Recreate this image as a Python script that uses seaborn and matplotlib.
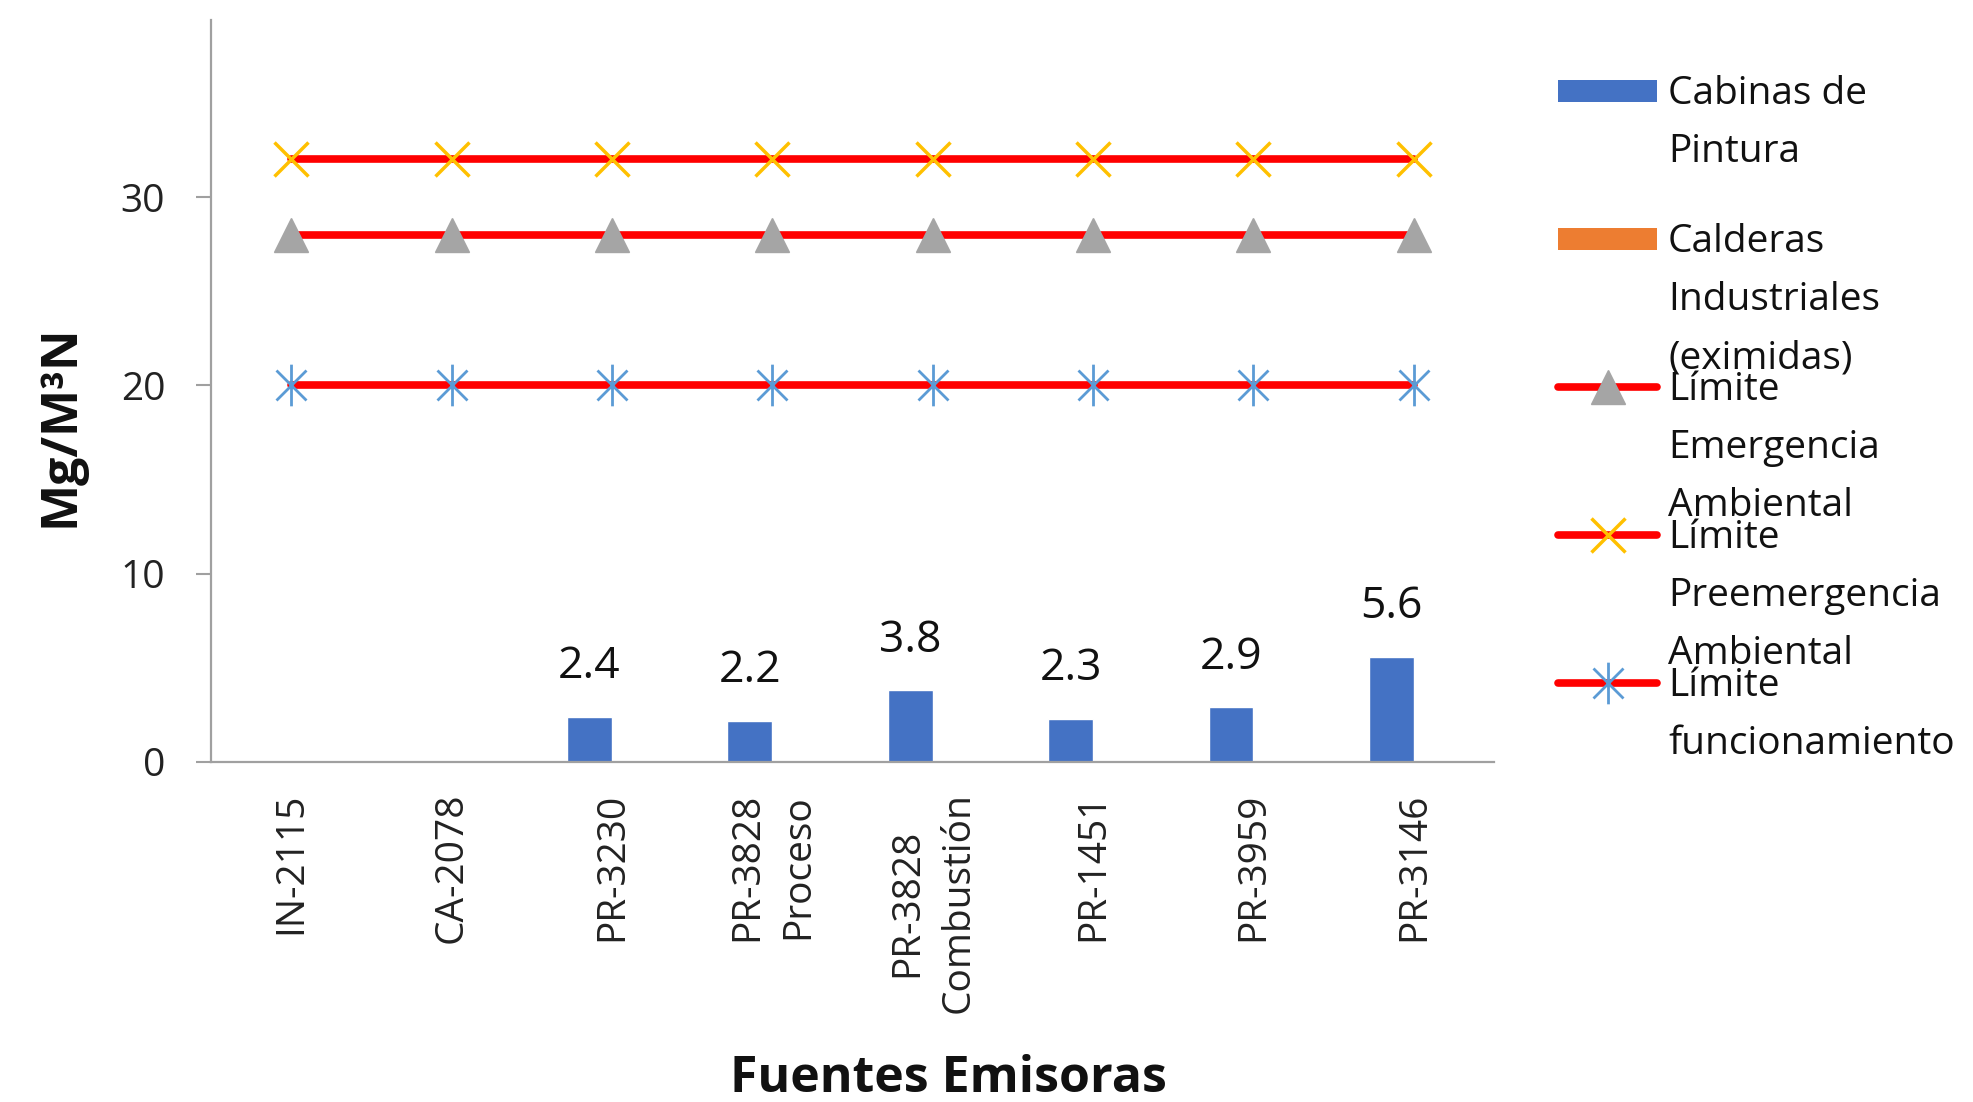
import matplotlib
matplotlib.use("Agg")
import matplotlib.pyplot as plt
from matplotlib.lines import Line2D
from matplotlib.patches import Rectangle
from matplotlib.path import Path
import seaborn as sns
import pandas as pd

# --- data ---
fuentes = ["IN-2115", "CA-2078", "PR-3230", "PR-3828\nProceso",
           "PR-3828\nCombustión", "PR-1451", "PR-3959", "PR-3146"]
cabinas = [0, 0, 2.4, 2.2, 3.8, 2.3, 2.9, 5.6]
calderas = [0, 0, 0, 0, 0, 0, 0, 0]
lim_emergencia = [28, 28, 28, 28, 28, 28, 28, 28]
lim_preemergencia = [32, 32, 32, 32, 32, 32, 32, 32]
lim_funcionamiento = [20, 20, 20, 20, 20, 20, 20, 20]

serie_cab = "Cabinas de Pintura"
serie_cal = "Calderas Industriales (eximidas)"
leg_labels = ["Cabinas de\nPintura", "Calderas\nIndustriales\n(eximidas)",
              "Límite\nEmergencia\nAmbiental", "Límite\nPreemergencia\nAmbiental",
              "Límite\nfuncionamiento"]

BLUE, ORANGE, RED = "#4472C4", "#ED7D31", "#FF0000"
GRAY, YELLOW, LBLUE = "#A5A5A5", "#FFC000", "#5B9BD5"

sns.set_theme(style="white")
plt.rcParams["font.family"] = ["Open Sans", "DejaVu Sans"]

W, H = 1973, 1102
fig = plt.figure(figsize=(W / 100, H / 100), dpi=100)
ax = fig.add_axes([211 / W, 1 - 762 / H, (1494 - 211) / W, (762 - 20) / H])

df = pd.DataFrame({
    "fuente": fuentes + fuentes,
    "valor": cabinas + calderas,
    "serie": [serie_cab] * len(fuentes) + [serie_cal] * len(fuentes),
})
sns.barplot(data=df, x="fuente", y="valor", hue="serie", order=fuentes,
            palette=[BLUE, ORANGE], saturation=1, width=0.56, gap=0,
            legend=False, ax=ax)

# data labels only where there is a value
cont = ax.containers[0]
ax.bar_label(cont, labels=[f"{v:.1f}" if v > 0 else "" for v in cabinas],
             padding=20, fontsize=32, color="#111111")

# asterisk marker like the spreadsheet one
star = Path([(0, -1), (0, 1), (-0.72, -0.72), (0.72, 0.72), (-0.72, 0.72), (0.72, -0.72)],
            [Path.MOVETO, Path.LINETO, Path.MOVETO, Path.LINETO, Path.MOVETO, Path.LINETO])

mk_tri = dict(marker="^", markersize=24, markeredgecolor=GRAY,
              markerfacecolor=GRAY, markeredgewidth=1)
mk_x = dict(marker="x", markersize=24, markeredgecolor=YELLOW, markeredgewidth=2.5)
mk_star = dict(marker=star, markersize=30, markeredgecolor=LBLUE,
               markerfacecolor="none", markeredgewidth=2)

pos = list(range(len(fuentes)))
for vals, mk in [(lim_funcionamiento, mk_star), (lim_emergencia, mk_tri),
                 (lim_preemergencia, mk_x)]:
    sns.lineplot(x=pos, y=vals, color=RED, lw=5.5, ax=ax, **mk)

ax.set_xlim(-0.5, len(fuentes) - 0.5)
ax.set_ylim(0, 39.4)
ax.set_yticks([0, 10, 20, 30])
ax.tick_params(axis="y", labelsize=28, length=11, width=1.5, color="#A0A0A0",
               pad=22, labelcolor="#222222", left=True)
ax.tick_params(axis="x", labelsize=28, length=0, pad=22, labelcolor="#222222")
for lab in ax.get_xticklabels():
    lab.set_rotation(90)
    lab.set_va("top")
    lab.set_ha("center")
    lab.set_multialignment("center")
    lab.set_linespacing(1.45)

for side in ["top", "right"]:
    ax.spines[side].set_visible(False)
for side in ["left", "bottom"]:
    ax.spines[side].set_color("#A0A0A0")
    ax.spines[side].set_linewidth(1.6)

ax.set_ylabel("Mg/M³N", fontsize=36, fontweight="bold", color="#111111")
ax.yaxis.set_label_coords(-0.098, 0.453)
ax.set_xlabel("Fuentes Emisoras", fontsize=36, fontweight="bold", color="#111111")
ax.xaxis.set_label_coords(0.575, -0.393)

# legend, spreadsheet style: handle next to the first line of each label
leg_x0, leg_x1, leg_tx = 1558, 1657, 1668
leg_y0, leg_step = 91, 148
handles = [("patch", BLUE, None), ("patch", ORANGE, None),
           ("line", RED, mk_tri), ("line", RED, mk_x), ("line", RED, mk_star)]
for i, (kind, col, mk) in enumerate(handles):
    yc = leg_y0 + i * leg_step
    if kind == "patch":
        fig.add_artist(Rectangle((leg_x0 / W, 1 - (yc + 11) / H), (leg_x1 - leg_x0) / W, 22 / H,
                                 transform=fig.transFigure, color=col, lw=0))
    else:
        fig.add_artist(Line2D([leg_x0 / W, leg_x1 / W], [1 - yc / H, 1 - yc / H],
                              transform=fig.transFigure, color=col, lw=5.5))
        fig.add_artist(Line2D([(leg_x0 + leg_x1) / 2 / W], [1 - yc / H],
                              transform=fig.transFigure, lw=0, **mk))
    fig.text(leg_tx / W, 1 - (yc - 16) / H, leg_labels[i], fontsize=28,
             va="top", ha="left", linespacing=1.69, color="#111111")

fig.savefig("out.png", dpi=100, facecolor="white")
